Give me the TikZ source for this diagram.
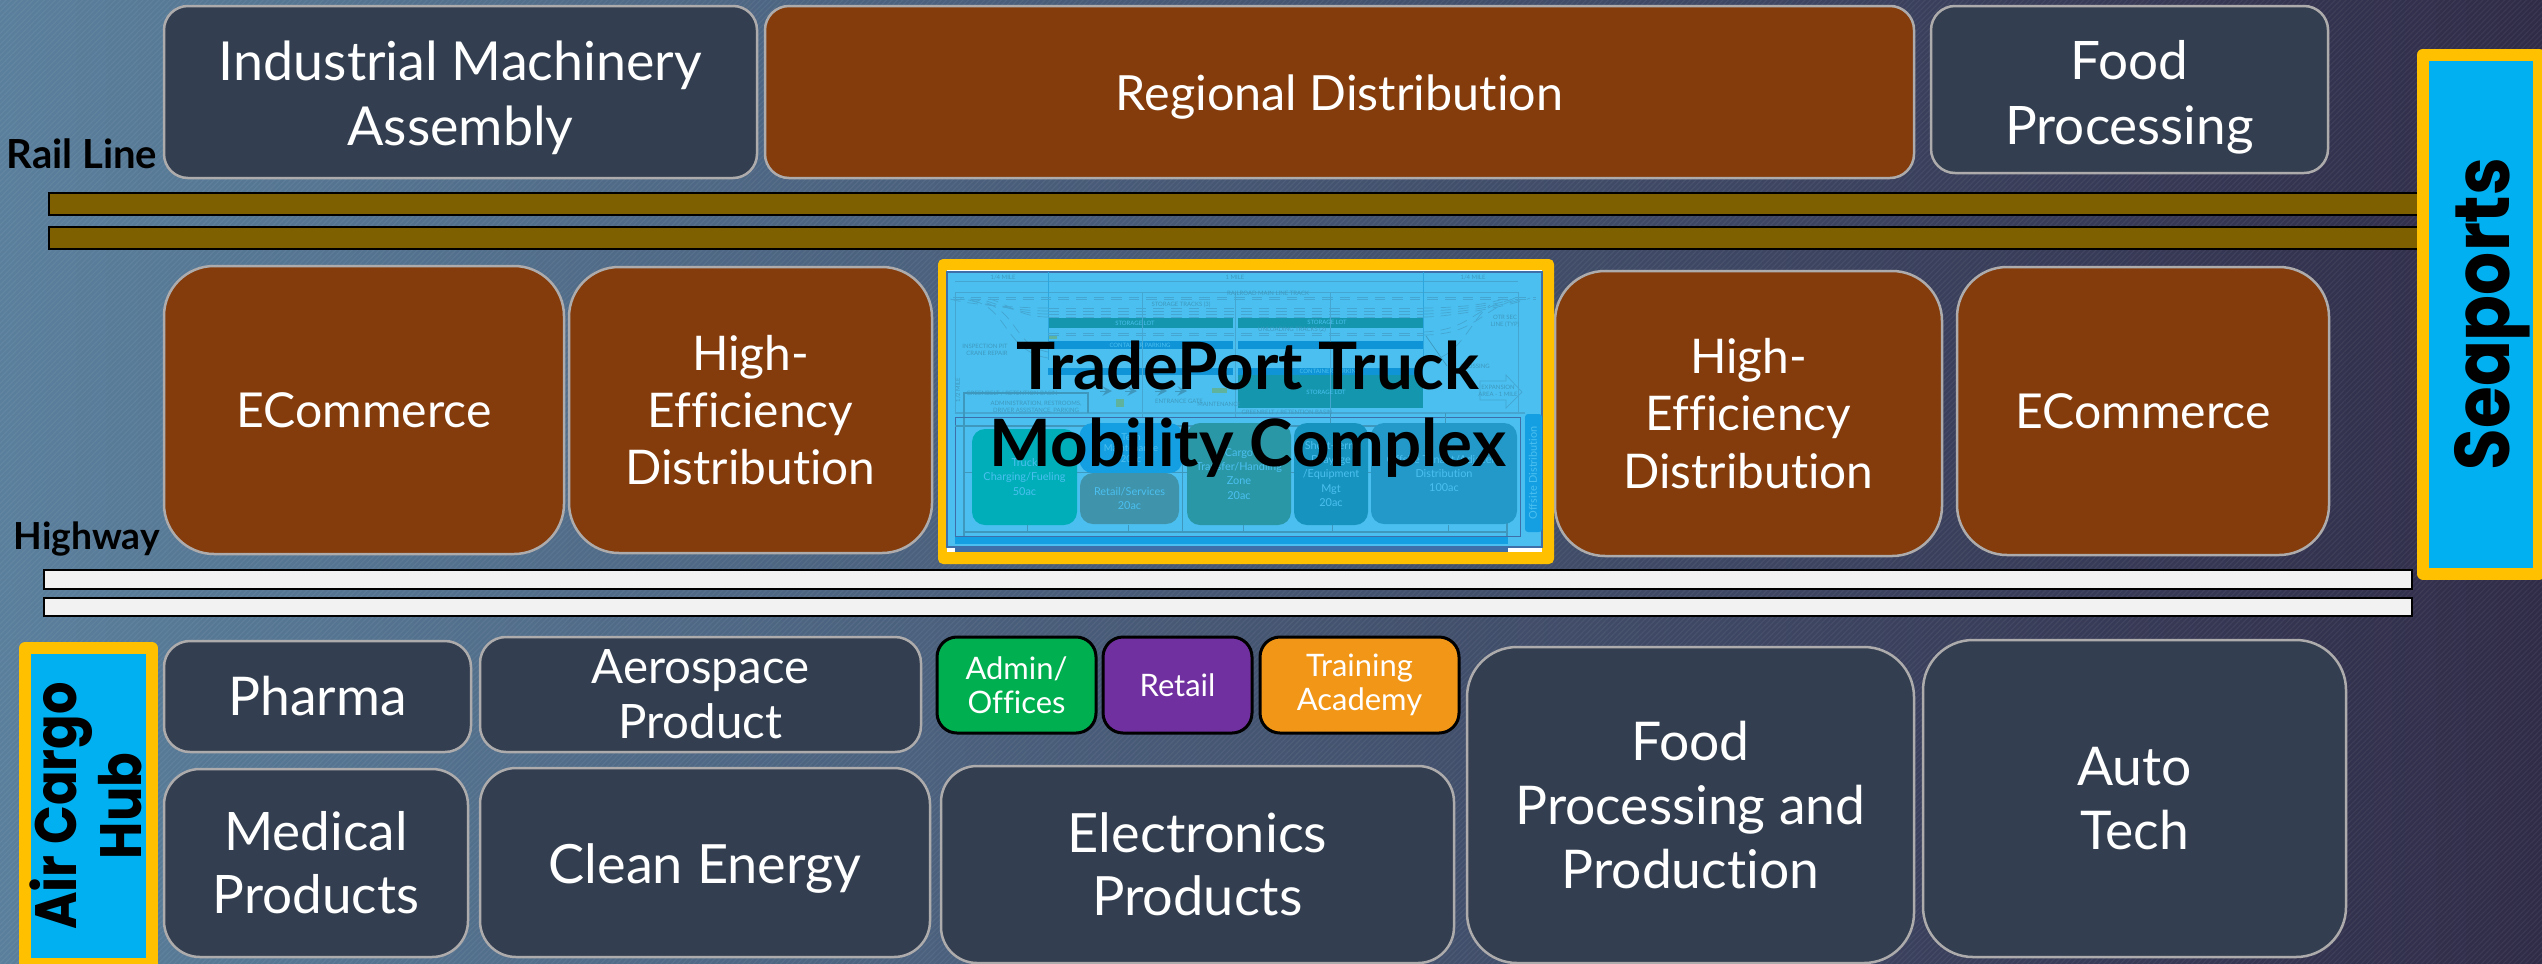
\documentclass[tikz,border=0pt]{standalone}
\usepackage{fontspec}
\setmainfont{Lato}[Ligatures=NoCommon]
\newfontfamily\headfont{Poppins}[FakeStretch=0.875]
\usetikzlibrary{patterns.meta}
\definecolor{boxdark}{HTML}{333F50}
\definecolor{boxbrown}{HTML}{843C0C}
\definecolor{boxedge}{HTML}{ADABAB}
\definecolor{boxgreen}{HTML}{00B050}
\definecolor{boxpurple}{HTML}{7030A0}
\definecolor{boxorange}{HTML}{F19617}
\definecolor{frameyellow}{HTML}{FFC000}
\definecolor{portblue}{HTML}{00B0F0}
\definecolor{railbrown}{HTML}{7F6000}
\definecolor{roadgrey}{HTML}{F2F2F2}
\definecolor{skyleft}{HTML}{5A7F9C}
\definecolor{skymid}{HTML}{4D6183}
\definecolor{skyright}{HTML}{302C48}
\definecolor{planblue}{HTML}{4BC0F0}
\definecolor{planline}{HTML}{45A6D2}
\definecolor{plantext}{HTML}{3E98BE}
\definecolor{planteal}{HTML}{1497AE}
\definecolor{planpark}{HTML}{0F94D8}
\definecolor{planbright}{HTML}{149FE3}
\definecolor{planedge}{HTML}{3E6FA8}
\definecolor{plangreen}{HTML}{5FB39C}
\definecolor{zonetruck}{HTML}{00AEB9}
\definecolor{zoneretail}{HTML}{3F93AB}
\definecolor{zonecargo}{HTML}{2A97A7}
\definecolor{zoneshort}{HTML}{1793BF}
\definecolor{zonedist}{HTML}{2299C9}
\tikzset{
  bx/.style n args={3}{draw,inner sep=0pt,align=center,text=white,
    line width=.25mm,minimum width=#1*0.1mm,minimum height=#2*0.1mm,rounded corners=#3*0.1mm},
  fs/.style n args={2}{font=\fontsize{#1}{#2}\selectfont},
  drop/.style={execute at begin node={\rule{0pt}{#1}}},
  darkbox/.style args={#1/#2/#3}{bx={#1}{#2}{#3},draw=boxedge,fill=boxdark},
  brownbox/.style args={#1/#2/#3}{bx={#1}{#2}{#3},draw=boxedge,fill=boxbrown},
  boxtext/.style={inner sep=0pt,align=center,text=white},
  tinybox/.style args={#1/#2/#3}{bx={#1}{#2}{20},draw=black,fill=#3,fs={8.8}{9.6},line width=.3mm},
  bar/.style={draw=black,line width=.25mm,fill=#1},
  port/.style={draw=frameyellow,fill=portblue,line width=1.2mm,line join=round,inner sep=0pt,
    text=black,align=center,rotate=90},
  sidehead/.style={text=black,inner sep=0pt},
  plan/.style={draw=planline,line width=.07mm},
  rail/.style={draw=planline,line width=.07mm,densely dashed},
  zone/.style args={#1/#2/#3}{inner sep=0pt,rounded corners=1.3mm,align=center,text=planblue,
    fill=#3,minimum width=#1*0.1mm,minimum height=#2*0.1mm,fs={3.1}{4}},
  tag/.style={text=plantext,inner sep=0pt,align=center,fs={1.7}{2.1}}
}
\begin{document}
\begin{tikzpicture}[x=0.1mm,y=-0.1mm]
  \useasboundingbox (0,0) rectangle (2542,963);
  % backdrop
  \shade[shading angle=-25,left color=skyleft,middle color=skymid,right color=skyright]
    (0,0) rectangle (2542,963);
  \fill[pattern={Lines[angle=45,distance=1.1pt,line width=.35pt]},pattern color=white,opacity=.05]
    (0,0) rectangle (2542,963);

  % rail line and highway
  \node[sidehead,anchor=base west,font=\bfseries\fontsize{11.4}{13}\selectfont] (railLabel) at (6,168) {Rail Line};
  \node[sidehead,anchor=base west,font=\bfseries\fontsize{10.6}{13}\selectfont] (hwyLabel) at (13,549) {Highway};
  \draw[bar=railbrown] (49,193) rectangle (2430,215);
  \draw[bar=railbrown] (49,227) rectangle (2430,249);
  \draw[bar=roadgrey] (44,570) rectangle (2412,589);
  \draw[bar=roadgrey] (44,598) rectangle (2412,616);

  % top row
  \node[darkbox=593/172/24] (nInd) at (460.5,92) {};
  \node[boxtext,fs={15.3}{18.4}] (nIndText) at (460.5,98) {Industrial Machinery\\Assembly};
  \node[brownbox=1149/172/24,fs={13.8}{16},drop=13pt] (nReg) at (1339.5,92) {Regional Distribution};
  \node[darkbox=397/167/24] (nFood) at (2129.5,89.5) {};
  \node[boxtext,fs={15.1}{18.6}] (nFoodText) at (2129.5,97) {Food\\Processing};

  % middle row
  \node[brownbox=400/288/50,fs={13.7}{16}] (nEcomL) at (364,410) {ECommerce};
  \node[brownbox=363/286/50,fs={13.6}{16.3}] (nEffL) at (750.5,410) {High-\\Efficiency\\Distribution};
  \node[brownbox=387/285/50,fs={13.6}{16.3}] (nEffR) at (1748.5,413.5) {High-\\Efficiency\\Distribution};
  \node[brownbox=372/288/50,fs={13.7}{16}] (nEcomR) at (2143,411) {ECommerce};

  % hub frame and its site plan
  \fill[frameyellow,rounded corners=.5mm] (938,259) rectangle (1554,564);
  \fill[white] (947,270) rectangle (1542,552);
  \fill[planedge] (955,548) rectangle (1508,552);
  \draw[planedge,line width=.25mm,fill=planblue] (947,272) rectangle (1542,547);
  \fill[planbright] (955,537) rectangle (1508,544);
  % lots
  \foreach \xa/\xb in {1048/1233,1238/1423}{
    \fill[planteal] (\xa,318) rectangle (\xb,328);
    \fill[planpark] (\xa,341) rectangle (\xb,349);
    \fill[planpark] (\xa,368) rectangle (\xb,375);
  }
  \fill[planteal] (1238,375) rectangle (1423,408);
  % plan lines
  \draw[plan] (955,292) rectangle (1518,413);
  \draw[plan] (955,281) -- (1518,281);
  \foreach \x in {1048,1423}
    \draw[plan,draw=cyan!60!planline] (\x,272) -- (\x,360);
  \foreach \x in {1142,1235,1330}
    \draw[plan] (\x,292) -- (\x,417);
  \draw[plan,line width=.15mm] (955,413) -- (1525,413);
  \draw[plan,line width=.15mm,draw=plantext] (964,536) -- (964,393) -- (1088,393) -- (1088,413);
  \foreach \y in {308,311,314,317,333,335}
    \draw[rail] (1048,\y) -- (1423,\y);
  \draw[rail] (953,297) -- (1536,297);
  \draw[rail] (953,299) -- (1536,299);
  \foreach \y/\yy in {308/970,311/985,314/1000,317/1010}
    \draw[rail] (1048,\y) .. controls (1020,\y) and (\yy,305) .. (\yy-20,299);
  \foreach \y/\yy in {308/1490,311/1500,314/1510,317/1515}
    \draw[rail] (1423,\y) .. controls (1450,\y) and (\yy,305) .. (\yy+15,298);
  \draw[rail] (1048,358) .. controls (1000,350) and (1010,300) .. (960,299);
  \draw[rail] (1048,352) .. controls (1010,345) and (1020,305) .. (970,299);
  \draw[rail] (1423,332) .. controls (1470,330) and (1470,310) .. (1510,300);
  \draw[rail] (1423,335) .. controls (1475,335) and (1480,310) .. (1515,300);
  \draw[rail] (1423,362) .. controls (1460,360) and (1470,320) .. (1490,305);
  \draw[plan,draw=plantext] (1426,336) -- (1447,366);
  \draw[plan] (1506,375) -- (1522,392) -- (1506,408) -- (1506,400) -- (1480,400) -- (1480,381) -- (1506,381) -- cycle;
  % small buildings
  \fill[plangreen] (1049,336) rectangle (1057,339);
  \fill[plangreen] (1212,388) rectangle (1227,393);
  \fill[plangreen] (1116,399) rectangle (1124,407);
  \foreach \x in {1100,1125,1155,1175}
    \draw[plan,draw=plantext,->,>=stealth] (\x,391) -- (\x+12,391);
  % plan labels
  \node[tag] (pMileA) at (1003,277) {1/4 MILE};
  \node[tag] (pMileB) at (1235,277) {1 MILE};
  \node[tag] (pMileC) at (1473,277) {1/4 MILE};
  \node[tag] (pMain) at (1268,293) {RAILROAD MAIN LINE TRACK};
  \node[tag] (pTracks) at (1181,305) {STORAGE TRACKS (3)};
  \node[tag,text=planblue] (pLotA) at (1135,323) {STORAGE LOT};
  \node[tag,text=planblue] (pLotB) at (1327,322) {STORAGE LOT};
  \node[tag] (pUnload) at (1292,330) {UNLOADING TRACKS (2)};
  \node[tag,text=planblue] (pParkA) at (1140,345) {CONTAINER PARKING};
  \node[tag,text=planblue] (pParkB) at (1330,371) {CONTAINER PARKING};
  \node[tag,text=planblue] (pLotC) at (1326,392) {STORAGE LOT};
  \node[tag] (pPit) at (985,346) {INSPECTION PIT};
  \node[tag] (pCrane) at (987,353) {CRANE REPAIR};
  \node[tag] (pOtr) at (1505,321) {OTR SEC\\LINE (TYP)};
  \node[tag] (pCross) at (1475,366) {CROSSING};
  \node[tag] (pExp) at (1498,391) {EXPANSION\\AREA - 1 MILE};
  \node[tag] (pBasinA) at (1012,393) {GREENBELT / RETENTION BASIN};
  \node[tag] (pBasinB) at (1287,412) {GREENBELT / RETENTION BASIN};
  \node[tag] (pAdmin) at (1036,407) {ADMINISTRATION, RESTROOMS,\\DRIVER ASSISTANCE, PARKING};
  \node[tag] (pGate) at (1179,401) {ENTRANCE GATE};
  \node[tag] (pMaint) at (1219,404) {MAINTENANCE};
  \node[tag,rotate=90] (pHalf) at (958,390) {1/2 MILE};
  % lower panel
  \draw[plan,draw=planedge] (955,417) rectangle (1520,536);
  \draw[plan,draw=plantext,line width=.15mm] (955,426) -- (1507,426) (964,532) -- (1507,532) (1507,426) -- (1507,536);
  \foreach \x/\ya/\yb in {1027/525/532,1128/525/532,1182/426/532,1243/525/532,1332/525/532,1448/525/532,1330/413/426,1445/413/426}
    \draw[plan,draw=plantext] (\x,\ya) -- (\x,\yb);
  \draw[plan,draw=plantext] (964,472) -- (1510,472);
  \node[zone=103/50/planbright,fs={2.7}{3}] (zTech) at (1131,448) {Tech\\Maintenance\\20ac};
  \node[zone=17/118/planbright,rounded corners=.3mm] (zOff) at (1533.5,473) {};
  \node[text=planblue,rotate=90,inner sep=0pt,fs={3.1}{4}] (zOffTxt) at (1533,473) {Offsite Distribution};
  \node[zone=105/96/zonetruck] (zTruck) at (1024.5,477) {Truck\\Charging/Fueling\\50ac};
  \node[zone=99/51/zoneretail] (zRetail) at (1129.5,498.5) {Retail/Services\\20ac};
  \node[zone=104/102/zonecargo] (zCargo) at (1239,474) {Cargo\\Transfer/Handling\\Zone\\20ac};
  \node[zone=74/102/zoneshort] (zShort) at (1331,474) {Short-term\\Drayage\\/Equipment\\Mgt\\20ac};
  \node[zone=146/101/zonedist] (zDist) at (1444,473.5) {Offsite Tenant/Adjacent\\Distribution\\100ac};

  % hub title
  \node[inner sep=0pt,align=center,text=black,font=\bfseries\fontsize{18.6}{21.8}\selectfont] (nHub) at (1248,409) {TradePort Truck\\Mobility Complex};

  % bottom rows
  \node[darkbox=307/111/26,fs={15.2}{18}] (nPhar) at (317.5,696.5) {Pharma};
  \node[darkbox=304/188/36,fs={15.1}{17.9}] (nMed) at (316,863) {Medical\\Products};
  \node[darkbox=441/115/26,fs={13.5}{15.6}] (nAero) at (700.5,694.5) {Aerospace\\Product};
  \node[darkbox=450/189/36,fs={15.4}{18},drop=14.8pt] (nClean) at (705,862.5) {Clean Energy};
  \node[tinybox=159/96/boxgreen] (nAdmin) at (1016.5,685) {Admin/\\Offices};
  \node[tinybox=149/96/boxpurple] (nRetail) at (1177.5,685) {Retail};
  \node[tinybox=199/96/boxorange] (nTrain) at (1359.5,685) {Training\\Academy};
  \node[darkbox=513/197/36,fs={15.4}{18}] (nElec) at (1197.5,864.5) {Electronics\\Products};
  \node[darkbox=447/316/50,fs={15.2}{18.2}] (nFoodP) at (1690.5,805) {Food\\Processing and\\Production};
  \node[darkbox=423/317/50,fs={15.2}{18.2}] (nAuto) at (2134.5,798.5) {Auto\\Tech};

  % air cargo and seaports
  \node[port,minimum width=316*0.1mm,minimum height=127*0.1mm] (nAir) at (88.5,806) {};
  \node[inner sep=0pt,align=center,text=black,rotate=90,
    font=\headfont\bfseries\fontsize{16.6}{18.4}\selectfont] (nAirText) at (86,806) {Air Cargo\\Hub};
  \node[port,minimum width=519*0.1mm,minimum height=116*0.1mm,drop=22pt,
    font=\headfont\bfseries\fontsize{22}{24}\selectfont] (nSea) at (2481,314) {Seaports};
\end{tikzpicture}
\end{document}
